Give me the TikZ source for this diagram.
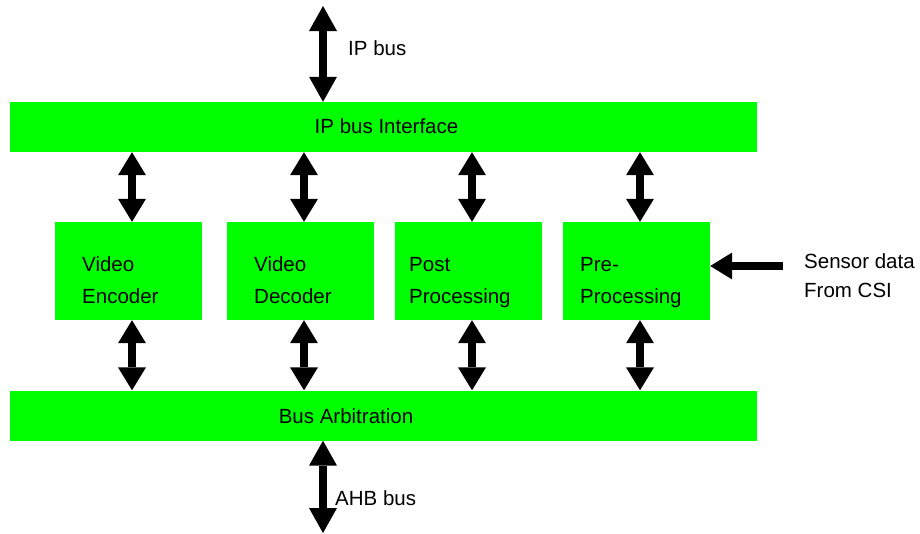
\documentclass[tikz,border=0pt]{standalone}
\usepackage{fontspec}
\setmainfont{Liberation Sans}
\usetikzlibrary{arrows.meta}
\definecolor{brightgreen}{RGB}{0,255,0}
\tikzset{
  bar/.style={rectangle, fill=brightgreen, draw=none, minimum width=747pt, minimum height=50pt, inner sep=0pt},
  block/.style={rectangle, fill=brightgreen, draw=none, minimum width=147pt, minimum height=98pt, inner sep=0pt},
  txt/.style={inner sep=0pt, font=\fontsize{20.5}{32}\selectfont, align=left},
  dbl/.style={line width=8pt, {Triangle[length=23pt,width=28pt,line width=0pt]}-{Triangle[length=23pt,width=28pt,line width=0pt]}},
  dblbig/.style={line width=8pt, {Triangle[length=25pt,width=28pt,line width=0pt]}-{Triangle[length=25pt,width=28pt,line width=0pt]}},
  sgl/.style={line width=8pt, -{Triangle[length=22pt,width=27pt,line width=0pt]}}
}
\begin{document}
\begin{tikzpicture}[x=1pt,y=-1pt]
\useasboundingbox (0,0) rectangle (920,533);
% bars
\node[bar] (ipif) at (383.5,127) {};
\node[bar] (arb) at (383.5,415.5) {};
% blocks
\node[block] (enc) at (128.5,271) {};
\node[block] (dec) at (300.5,271) {};
\node[block] (post) at (468.5,271) {};
\node[block] (pre) at (636.5,271) {};
% texts (base anchor of a two-line node = last line's baseline)
\node[txt, anchor=base] (ipiftxt) at (386.5,133) {IP bus Interface};
\node[txt, anchor=base] (arbtxt) at (346,423) {Bus Arbitration};
\node[txt, anchor=base west] (enctxt) at (82,303) {Video\\Encoder};
\node[txt, anchor=base west] (dectxt) at (254,303) {Video\\Decoder};
\node[txt, anchor=base west] (posttxt) at (409,303) {Post\\Processing};
\node[txt, anchor=base west] (pretxt) at (580,303) {Pre-\\Processing};
\node[txt, anchor=base west] (ipbus) at (348,55) {IP bus};
\node[txt, anchor=base west] (ahb) at (335,505) {AHB bus};
\node[txt, anchor=base west, font=\fontsize{20.5}{29}\selectfont] (sensor) at (804,297) {Sensor data\\From CSI};
% free ends
\coordinate (topend) at (323,6);
\coordinate (botend) at (323,533);
\coordinate (sensstart) at (783,266);
% connectors
\draw[dblbig] (topend) -- (topend |- ipif.north);
\draw[dblbig] (arb.south -| botend) -- (botend);
\foreach \b/\x in {enc/132, dec/304, post/472, pre/640}{
  \draw[dbl] (ipif.south -| \x,0) -- (\b.north -| \x,0);
  \draw[dbl] (\b.south -| \x,0) -- (arb.north -| \x,0);
}
\draw[sgl] (sensstart) -- (pre.east |- sensstart);
\end{tikzpicture}
\end{document}
